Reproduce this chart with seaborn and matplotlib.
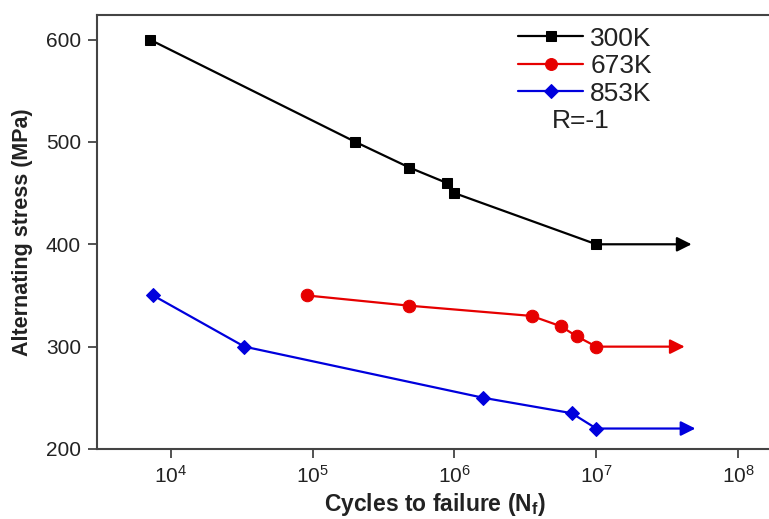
import pandas as pd
import seaborn as sns
import matplotlib
matplotlib.use("Agg")
import matplotlib.pyplot as plt

# S-N data
cycles_300 = [7.1e3, 2.0e5, 4.8e5, 8.8e5, 1.0e6, 1.0e7]
stress_300 = [600, 500, 475, 460, 450, 400]
cycles_673 = [9.1e4, 4.8e5, 3.5e6, 5.6e6, 7.3e6, 1.0e7]
stress_673 = [350, 340, 330, 320, 310, 300]
cycles_853 = [7.5e3, 3.3e4, 1.6e6, 6.7e6, 1.0e7]
stress_853 = [350, 300, 250, 235, 220]

# run-out arrows (end of arrow on the cycles axis)
runout_ends = [4.7e7, 4.2e7, 5.0e7]

labels = ["300K", "673K", "853K"]
colors = ["black", "#e60000", "#0000dd"]
markers = ["s", "o", "D"]
marker_sizes = [7, 9, 7.5]

sns.set_theme(style="ticks")
plt.rcParams["font.family"] = ["Liberation Sans", "DejaVu Sans"]
plt.rcParams["mathtext.fontset"] = "custom"
plt.rcParams["mathtext.rm"] = "Liberation Sans"
plt.rcParams["mathtext.bf"] = "Liberation Sans:bold"
plt.rcParams["mathtext.it"] = "Liberation Sans:italic"

fig = plt.figure(figsize=(7.69, 5.19), dpi=100)
ax = fig.add_axes([97 / 769, 70 / 519, (772 - 97) / 769, 434 / 519])

series = [(cycles_300, stress_300), (cycles_673, stress_673), (cycles_853, stress_853)]
for (xs, ys), lab, c, m, ms, end in zip(series, labels, colors, markers, marker_sizes, runout_ends):
    df = pd.DataFrame({"cycles": xs, "stress": ys})
    sns.lineplot(data=df, x="cycles", y="stress", ax=ax, color=c, marker=m,
                 markersize=ms, markeredgecolor=c, linewidth=1.6, label=lab)
    ax.annotate("", xy=(end, ys[-1]), xytext=(xs[-1], ys[-1]),
                arrowprops=dict(arrowstyle="-|>", color=c, lw=1.6,
                                mutation_scale=22, shrinkA=0, shrinkB=0))

ax.set_xscale("log")
ax.set_xlim(10 ** 3.479, 10 ** 8.239)
ax.set_ylim(200, 624)
ax.set_xticks([1e4, 1e5, 1e6, 1e7, 1e8])
ax.set_yticks([200, 300, 400, 500, 600])
ax.minorticks_off()

for sp in ax.spines.values():
    sp.set_linewidth(1.5)
    sp.set_color("#444444")
ax.tick_params(axis="both", direction="out", length=6.5, width=1.3,
               color="#444444", labelcolor="#222222", labelsize=15, pad=5)

ax.set_xlabel(r"Cycles to failure (N$_\mathbf{f}$)", fontsize=16.5,
              fontweight="bold", labelpad=3, color="#222222")
ax.set_ylabel("Alternating stress (MPa)", fontsize=15.5, fontweight="bold",
              labelpad=9, color="#222222")

leg = ax.legend(loc="upper left", bbox_to_anchor=(0.624, 0.973), frameon=False,
                fontsize=19, handlelength=2.45, handletextpad=0.28,
                labelspacing=0.13, borderaxespad=0, borderpad=0,
                markerscale=0.95)
for t in leg.get_texts():
    t.set_color("#222222")
ax.text(0.674, 0.756, "R=-1", transform=ax.transAxes, fontsize=19,
        ha="left", va="center", color="#222222")

fig.savefig("out.png", dpi=100)
